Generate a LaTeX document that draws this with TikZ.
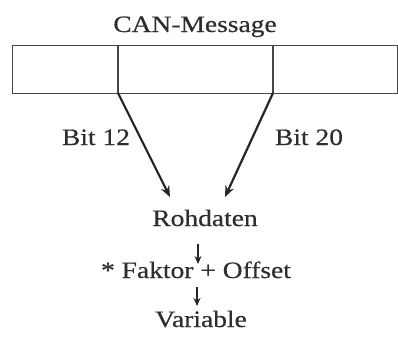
\documentclass[tikz,border=0pt]{standalone}
\usepackage{fontspec}
\setmainfont{Liberation Serif}[FakeStretch=1.17,FakeBold=0.4]
\usetikzlibrary{arrows.meta}
\begin{document}
\begin{tikzpicture}[x=1pt,y=-1pt,
  lbl/.style={anchor=base,inner sep=0pt,text=black!82,font=\fontsize{23.5}{28}\selectfont},
  boxline/.style={draw=black!72,line width=1.4pt},
  bigarr/.style={draw=black!85,line width=2.2pt,-{Stealth[length=11pt,width=9pt]}},
  smallarr/.style={draw=black!85,line width=1.6pt,-{Stealth[length=8pt,width=7pt]}}]
\useasboundingbox (0,0) rectangle (398,338);
\fill[white] (0,0) rectangle (398,338);
% message box
\node[boxline,minimum width=385pt,minimum height=48pt,inner sep=0pt,anchor=north west] (msg) at (12,45) {};
\coordinate (d1t) at (118,45);
\coordinate (d1b) at (118,93);
\coordinate (d2t) at (273,45);
\coordinate (d2b) at (273,93);
\draw[boxline] (d1t) -- (d1b);
\draw[boxline] (d2t) -- (d2b);
% texts
\node[lbl] (title) at (195,32) {CAN-Message};
\node[lbl] (bit12) at (96,145) {Bit 12};
\node[lbl] (bit20) at (309,145) {Bit 20};
\node[lbl] (roh) at (205,226) {Rohdaten};
\node[lbl] (fak) at (196,278) {* Faktor + Offset};
\node[lbl] (var) at (201,327) {Variable};
% arrows
\coordinate (t1) at (170,197);
\coordinate (t2) at (225,197);
\draw[bigarr] (d1b) -- (t1);
\draw[bigarr] (d2b) -- (t2);
\coordinate (a1s) at (198,244);
\coordinate (a1e) at (198,264);
\coordinate (a2s) at (197,287);
\coordinate (a2e) at (197,306);
\draw[smallarr] (a1s) -- (a1e);
\draw[smallarr] (a2s) -- (a2e);
\end{tikzpicture}
\end{document}
